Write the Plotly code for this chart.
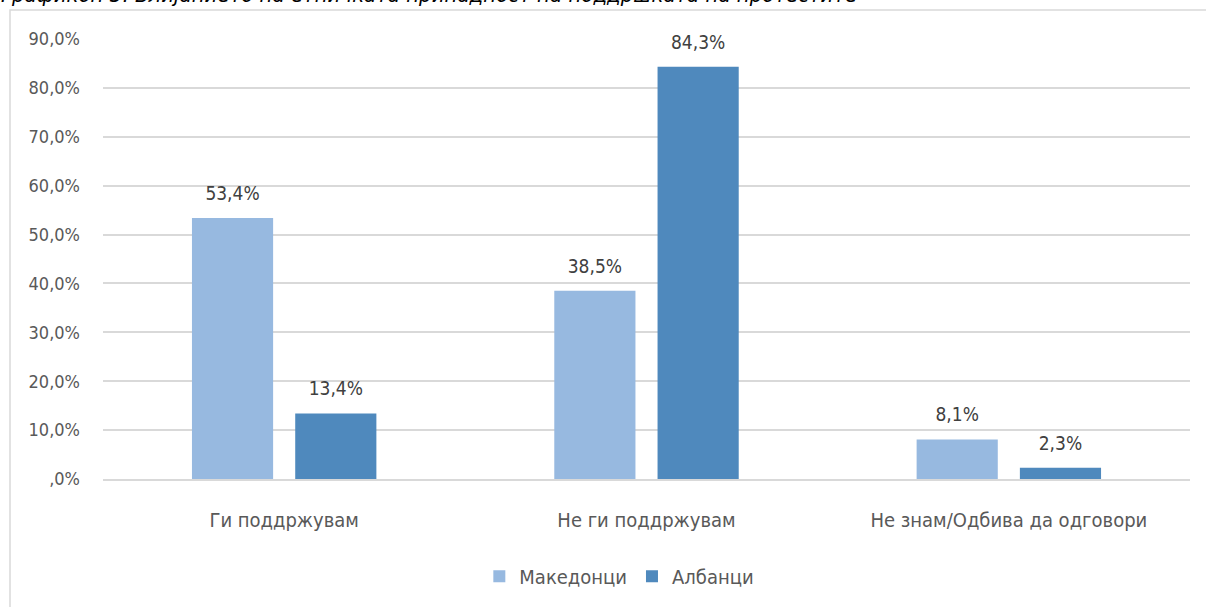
import plotly.graph_objects as go

categories = ["Ги поддржувам", "Не ги поддржувам", "Не знам/Одбива да одговори"]
macedonians = [53.4, 38.5, 8.1]
albanians = [13.4, 84.3, 2.3]
series_names = ["Македонци", "Албанци"]
tick_vals = [0, 10, 20, 30, 40, 50, 60, 70, 80, 90]
tick_text = [",0%", "10,0%", "20,0%", "30,0%", "40,0%", "50,0%", "60,0%", "70,0%", "80,0%", "90,0%"]
title = "Графикон 3. Влијанието на етничката припадност на поддршката на протестите"

FONT = "DejaVu Sans Condensed, sans-serif"
colors = ["#97B9E0", "#4F89BD"]

L, R, T, B = 103, 16, 39, 127
PW, PH = 1206 - L - R, 607 - T - B


def fmt(v):
    return f"{v:.1f}%".replace(".", ",")


fig = go.Figure()
for name, vals, col in zip(series_names, [macedonians, albanians], colors):
    fig.add_trace(go.Bar(
        x=categories, y=vals, name=name, marker_color=col,
        marker_line_width=0, offsetgroup=name, hoverinfo="x+y",
    ))
# data labels, lifted above the bars by an invisible marker
for name, vals in zip(series_names, [macedonians, albanians]):
    fig.add_trace(go.Scatter(
        x=categories, y=vals, mode="markers+text", text=[fmt(v) for v in vals],
        textposition="top center", offsetgroup=name, showlegend=False,
        marker=dict(size=20, opacity=0),
        textfont=dict(size=19, color="#404040", family=FONT),
        cliponaxis=False, hoverinfo="skip",
    ))

fig.update_layout(
    width=1206, height=607,
    margin=dict(l=L, r=R, t=T, b=B),
    plot_bgcolor="white", paper_bgcolor="white",
    barmode="group", bargap=0.43, bargroupgap=0.214, scattermode="group",
    font=dict(family=FONT, color="#595959", size=18),
    legend=dict(orientation="h", x=0.475, xanchor="center", y=-0.218, yanchor="middle",
                font=dict(size=20, color="#595959"), itemwidth=30),
    showlegend=True,
)
fig.update_yaxes(range=[0, 90], tickvals=tick_vals, ticktext=tick_text,
                 showgrid=True, gridcolor="#D9D9D9", gridwidth=1.5,
                 zeroline=False, showline=False, ticks="", ticklabelstandoff=22,
                 tickfont=dict(size=18))
fig.update_xaxes(showline=True, linecolor="#D9D9D9", linewidth=1.5, ticks="",
                 ticklabelstandoff=22, tickfont=dict(size=20))

fig.add_shape(type="rect", xref="paper", yref="paper",
              x0=(10 - L) / PW, x1=(1215 - L) / PW, y0=(480 - 620) / PH, y1=(480 - 10) / PH,
              line=dict(color="#D9D9D9", width=1.5), layer="below")
fig.add_annotation(text="<i>" + title + "</i>", xref="paper", yref="paper",
                   x=(-1 - L) / PW, y=(480 - 9) / PH, xanchor="left", yanchor="bottom",
                   showarrow=False, font=dict(size=22, color="black", family=FONT))

fig.write_html("out.html", config={"displayModeBar": False},
               post_script="document.body.style.margin='0';")
